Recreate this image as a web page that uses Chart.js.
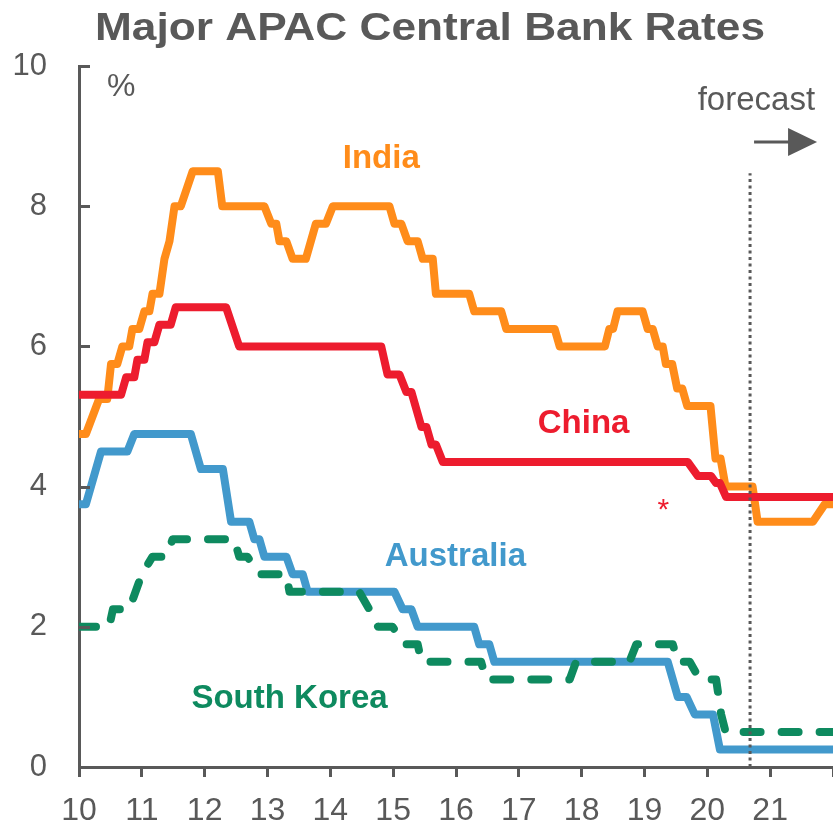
<!DOCTYPE html>
<html>
<head>
<meta charset="utf-8">
<title>Major APAC Central Bank Rates</title>
<script src="https://cdn.jsdelivr.net/npm/chart.js@4"></script>
<style>
  html, body { margin: 0; padding: 0; background: #fff; }
  #rates { display: block; }
</style>
</head>
<body>
<canvas id="rates" width="833" height="826"></canvas>
<script>
// Policy rates in %, x is the year (10 = 2010). Each pair is a corner of the line.
var indiaYears = [10.0, 10.11, 10.32, 10.45, 10.51, 10.61, 10.69, 10.80, 10.85, 10.96, 11.04, 11.12, 11.17, 11.28, 11.36, 11.44, 11.52, 11.62, 11.81, 12.21, 12.28, 12.95, 13.06, 13.14, 13.19, 13.30, 13.40, 13.61, 13.77, 13.93, 14.04, 14.94, 15.02, 15.13, 15.23, 15.39, 15.47, 15.63, 15.68, 16.21, 16.29, 16.72, 16.80, 17.57, 17.65, 18.37, 18.44, 18.50, 18.57, 18.97, 19.05, 19.13, 19.21, 19.29, 19.34, 19.44, 19.52, 19.60, 19.68, 20.05, 20.13, 20.21, 20.29, 20.72, 20.80, 21.68, 21.87, 22.0];
var indiaRates = [4.75, 4.75, 5.25, 5.25, 5.75, 5.75, 6.0, 6.0, 6.25, 6.25, 6.5, 6.5, 6.75, 6.75, 7.25, 7.5, 8.0, 8.0, 8.5, 8.5, 8.0, 8.0, 7.75, 7.75, 7.5, 7.5, 7.25, 7.25, 7.75, 7.75, 8.0, 8.0, 7.75, 7.75, 7.5, 7.5, 7.25, 7.25, 6.75, 6.75, 6.5, 6.5, 6.25, 6.25, 6.0, 6.0, 6.25, 6.25, 6.5, 6.5, 6.25, 6.25, 6.0, 6.0, 5.75, 5.75, 5.4, 5.4, 5.15, 5.15, 4.4, 4.4, 4.0, 4.0, 3.5, 3.5, 3.75, 3.75];

var chinaYears = [10.0, 10.67, 10.75, 10.88, 10.93, 11.04, 11.09, 11.20, 11.28, 11.46, 11.54, 12.34, 12.55, 14.81, 14.91, 15.10, 15.21, 15.29, 15.45, 15.53, 15.61, 15.68, 15.79, 19.69, 19.85, 20.06, 20.14, 20.20, 20.30, 22.0];
var chinaRates = [5.31, 5.31, 5.56, 5.56, 5.81, 5.81, 6.06, 6.06, 6.31, 6.31, 6.56, 6.56, 6.0, 6.0, 5.6, 5.6, 5.35, 5.35, 4.85, 4.85, 4.6, 4.6, 4.35, 4.35, 4.15, 4.15, 4.05, 4.05, 3.85, 3.85];

var australiaYears = [10.0, 10.11, 10.35, 10.77, 10.88, 11.78, 11.94, 12.29, 12.42, 12.71, 12.79, 12.87, 12.95, 13.30, 13.40, 13.56, 13.64, 15.02, 15.15, 15.29, 15.39, 16.29, 16.37, 16.53, 16.61, 19.37, 19.53, 19.67, 19.80, 20.09, 20.20, 22.0];
var australiaRates = [3.75, 3.75, 4.5, 4.5, 4.75, 4.75, 4.25, 4.25, 3.5, 3.5, 3.25, 3.25, 3.0, 3.0, 2.75, 2.75, 2.5, 2.5, 2.25, 2.25, 2.0, 2.0, 1.75, 1.75, 1.5, 1.5, 1.0, 1.0, 0.75, 0.75, 0.25, 0.25];

var koreaYears = [10.0, 10.48, 10.54, 10.80, 11.0, 11.17, 11.39, 11.49, 12.47, 12.55, 12.68, 12.87, 13.30, 13.35, 14.46, 14.62, 14.76, 14.99, 15.18, 15.39, 15.45, 16.40, 16.48, 17.81, 17.91, 18.76, 18.87, 19.45, 19.53, 19.72, 19.88, 20.14, 20.22, 20.29, 22.0];
var koreaRates = [2.0, 2.0, 2.25, 2.25, 2.75, 3.0, 3.0, 3.25, 3.25, 3.0, 3.0, 2.75, 2.75, 2.5, 2.5, 2.25, 2.0, 2.0, 1.75, 1.75, 1.5, 1.5, 1.25, 1.25, 1.5, 1.5, 1.75, 1.75, 1.5, 1.5, 1.25, 1.25, 0.75, 0.5, 0.5];

var yearTicks = [10, 11, 12, 13, 14, 15, 16, 17, 18, 19, 20, 21, 22];
var rateTicks = [0, 2, 4, 6, 8, 10];
var forecastStart = 20.68;
var forecastTop = 8.47;

var fontFamily = '"Liberation Sans", Arial, sans-serif';
var grey = '#595959';
var orange = '#ff8c1a';
var red = '#ed1c2e';
var blue = '#4299cc';
var green = '#0e8a5f';

function points(xs, ys) {
  return xs.map(function (x, i) { return { x: x, y: ys[i] }; });
}

// name labels placed in data units
var seriesLabels = [
  { text: 'India', x: 14.81, y: 8.55, color: orange },
  { text: 'China', x: 18.03, y: 4.76, color: red },
  { text: 'Australia', x: 15.99, y: 2.87, color: blue },
  { text: 'South Korea', x: 13.35, y: 0.84, color: green }
];

var annotate = {
  id: 'annotate',
  afterDraw: function (chart) {
    var ctx = chart.ctx;
    var xs = chart.scales.x, ys = chart.scales.y;
    var area = chart.chartArea;
    ctx.save();

    // y ticks point inward
    ctx.strokeStyle = grey;
    ctx.lineWidth = 3;
    rateTicks.forEach(function (v) {
      var py = Math.round(ys.getPixelForValue(v)) + 0.5;
      ctx.beginPath();
      ctx.moveTo(area.left, py);
      ctx.lineTo(area.left + 11, py);
      ctx.stroke();
    });

    // title, stretched across the top
    var title = 'Major APAC Central Bank Rates';
    ctx.font = 'bold 38px ' + fontFamily;
    ctx.fillStyle = grey;
    ctx.textBaseline = 'alphabetic';
    ctx.textAlign = 'left';
    var w = ctx.measureText(title).width;
    ctx.save();
    ctx.translate(95, 40);
    ctx.scale(670 / w, 1);
    ctx.fillText(title, 0, 0);
    ctx.restore();

    // unit
    ctx.font = '32px ' + fontFamily;
    ctx.fillText('%', area.left + 28, area.top + 30);

    // forecast note and arrow
    var fx = xs.getPixelForValue(forecastStart);
    ctx.font = '33px ' + fontFamily;
    ctx.textAlign = 'right';
    ctx.fillText('forecast', fx + 65, area.top + 44);
    ctx.beginPath();
    ctx.moveTo(fx + 4, area.top + 76);
    ctx.lineTo(fx + 42, area.top + 76);
    ctx.stroke();
    ctx.beginPath();
    ctx.moveTo(fx + 38, area.top + 62);
    ctx.lineTo(fx + 67, area.top + 76);
    ctx.lineTo(fx + 38, area.top + 90);
    ctx.closePath();
    ctx.fill();

    // series names
    ctx.textAlign = 'center';
    ctx.font = 'bold 33px ' + fontFamily;
    seriesLabels.forEach(function (l) {
      ctx.fillStyle = l.color;
      ctx.fillText(l.text, xs.getPixelForValue(l.x), ys.getPixelForValue(l.y));
    });
    ctx.fillStyle = red;
    ctx.font = '30px ' + fontFamily;
    ctx.fillText('*', xs.getPixelForValue(19.30), ys.getPixelForValue(3.54));

    ctx.restore();
  }
};

var lineStyle = {
  borderWidth: 8,
  pointRadius: 0,
  pointHoverRadius: 0,
  tension: 0,
  fill: false,
  borderJoinStyle: 'round'
};

new Chart(document.getElementById('rates'), {
  type: 'line',
  data: {
    datasets: [
      {
        label: 'forecast',
        data: [{ x: forecastStart, y: 0 }, { x: forecastStart, y: forecastTop }],
        borderColor: grey,
        borderWidth: 3,
        borderDash: [3, 3.5],
        pointRadius: 0,
        pointHoverRadius: 0
      },
      Object.assign({ label: 'South Korea', data: points(koreaYears, koreaRates), borderColor: green, borderDash: [17, 21], borderCapStyle: 'round' }, lineStyle),
      Object.assign({ label: 'China', data: points(chinaYears, chinaRates), borderColor: red }, lineStyle),
      Object.assign({ label: 'India', data: points(indiaYears, indiaRates), borderColor: orange }, lineStyle),
      Object.assign({ label: 'Australia', data: points(australiaYears, australiaRates), borderColor: blue }, lineStyle)
    ]
  },
  options: {
    responsive: false,
    animation: false,
    devicePixelRatio: 1,
    layout: { autoPadding: false, padding: { top: 66, left: 0, right: 0, bottom: 0 } },
    plugins: {
      legend: { display: false },
      title: { display: false },
      tooltip: { enabled: false }
    },
    scales: {
      x: {
        type: 'linear',
        min: 10,
        max: 22,
        afterFit: function (s) {
          s.height = 59;
          s.paddingLeft = 0;
          s.paddingRight = 0;
        },
        afterBuildTicks: function (s) { s.ticks = yearTicks.map(function (v) { return { value: v }; }); },
        ticks: {
          color: grey,
          font: { family: fontFamily, size: 32 },
          padding: 15,
          maxRotation: 0,
          autoSkip: false,
          callback: function (v) { return v < 22 ? String(v) : ''; }
        },
        grid: { drawOnChartArea: false, drawTicks: true, tickLength: 10, color: grey, lineWidth: 3 },
        border: { display: true, color: grey, width: 3 }
      },
      y: {
        min: 0,
        max: 10,
        afterFit: function (s) { s.width = 79; },
        afterBuildTicks: function (s) { s.ticks = rateTicks.map(function (v) { return { value: v }; }); },
        ticks: {
          color: grey,
          font: { family: fontFamily, size: 31 },
          padding: 32
        },
        grid: { drawOnChartArea: false, drawTicks: false },
        border: { display: true, color: grey, width: 3 }
      }
    }
  },
  plugins: [annotate]
});
</script>
</body>
</html>
